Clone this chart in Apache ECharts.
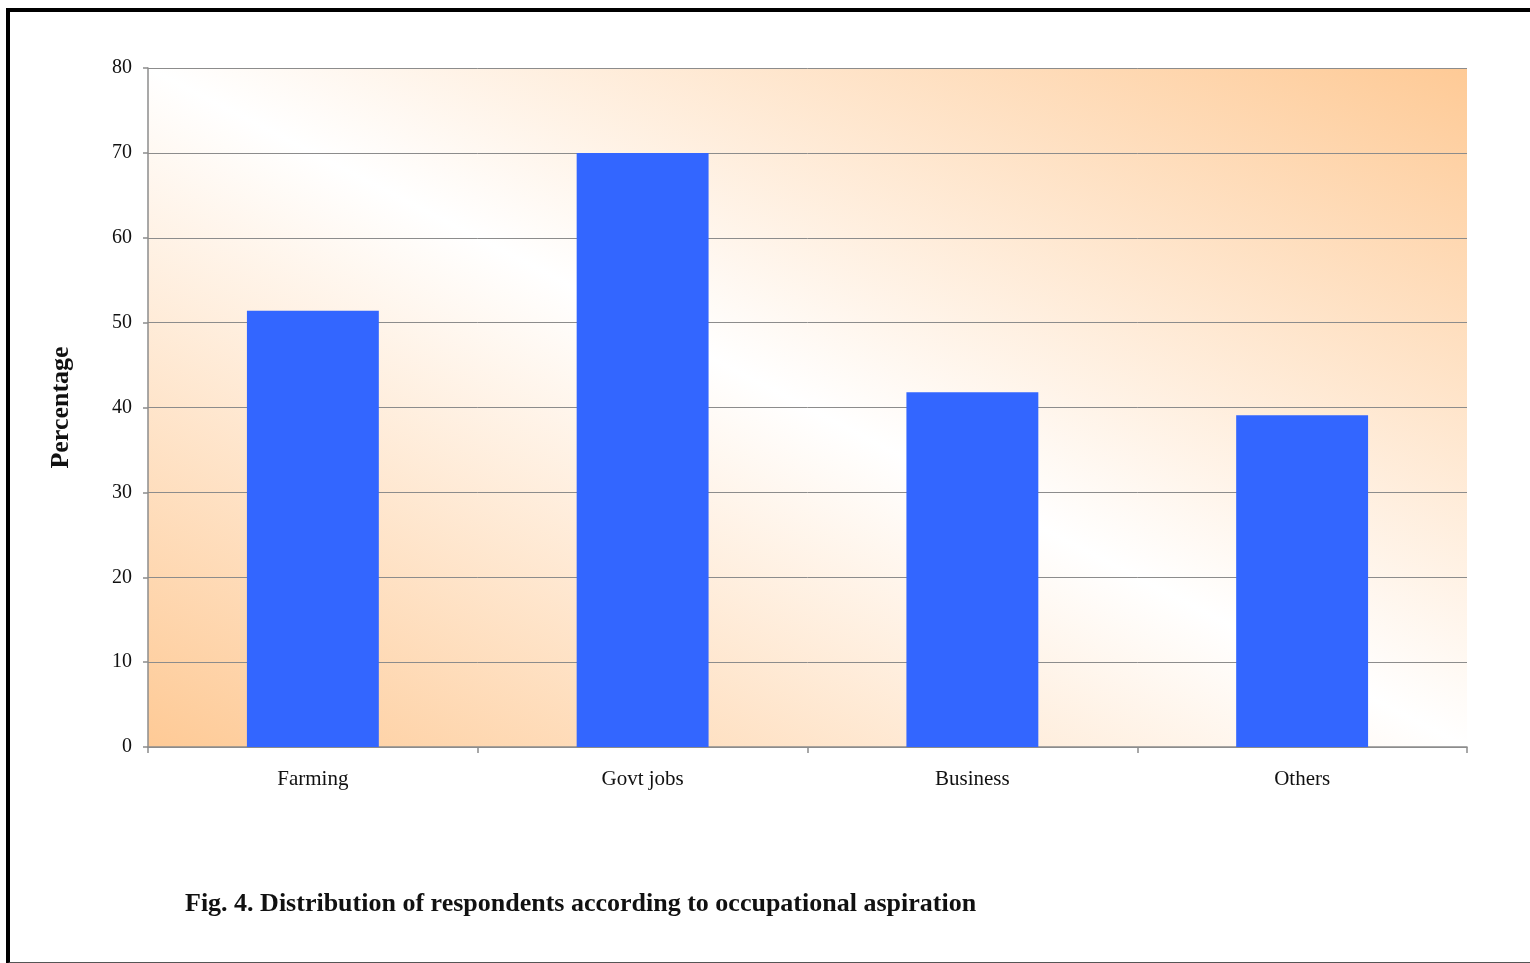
<!DOCTYPE html>
<html>
<head>
<meta charset="utf-8">
<script src="https://cdn.jsdelivr.net/npm/echarts@6/dist/echarts.min.js"></script>
<style>
  html, body { margin: 0; padding: 0; background: #fff; }
  #frame {
    position: absolute; left: 6px; top: 8px; width: 1520px; height: 950px;
    border-left: 4px solid #000; border-top: 4px solid #000;
    border-right: 2px solid #555; border-bottom: 2px solid #555;
  }
  #main { position: absolute; left: 0; top: 0; width: 1530px; height: 963px; }
</style>
</head>
<body>
<div id="frame"></div>
<div id="main"></div>
<script>
// data
var categories = ['Farming', 'Govt jobs', 'Business', 'Others'];
var percentages = [51.4, 70.0, 41.8, 39.1];
var yTicks = [0, 10, 20, 30, 40, 50, 60, 70, 80];

var chart = echarts.init(document.getElementById('main'));

var serif = '"Liberation Serif", "DejaVu Serif", serif';

// plot box, gradient runs across the box diagonal (white band along top-left -> bottom-right)
var box = { left: 148, top: 68, right: 1467, bottom: 747 };
var cx = (box.left + box.right) / 2, cy = (box.top + box.bottom) / 2;
var w = box.right - box.left, h = box.bottom - box.top;
var len = Math.sqrt(w * w + h * h);
var ux = h / len, uy = -w / len;
var half = ((box.left - cx) * ux + (box.bottom - cy) * uy);

chart.setOption({
  animation: false,
  title: {
    text: 'Fig. 4. Distribution of respondents according to occupational aspiration',
    left: 180, top: 886,
    textStyle: { fontFamily: serif, fontSize: 26, fontWeight: 'bold', color: '#111' }
  },
  grid: {
    left: box.left, top: box.top, right: 1530 - box.right, bottom: 963 - box.bottom,
    show: true,
    borderWidth: 0,
    backgroundColor: {
      type: 'linear', global: true,
      x: cx + half * ux, y: cy + half * uy,
      x2: cx - half * ux, y2: cy - half * uy,
      colorStops: [
        {offset: 0, color: '#FECA96'},
        {offset: 0.5, color: '#FFFFFF'},
        {offset: 1, color: '#FECA96'}
      ]
    }
  },
  xAxis: {
    type: 'category',
    data: categories,
    axisLine: { lineStyle: { color: '#8c8c8c', width: 1.5 } },
    axisTick: { show: true, length: 6, lineStyle: { color: '#8c8c8c', width: 1.5 } },
    axisLabel: { fontFamily: serif, fontSize: 21, color: '#111', margin: 22 }
  },
  yAxis: {
    type: 'value',
    min: yTicks[0], max: yTicks[yTicks.length - 1], interval: 10,
    name: 'Percentage',
    nameLocation: 'middle',
    nameGap: 74,
    nameTextStyle: { fontFamily: serif, fontSize: 26, fontWeight: 'bold', color: '#111' },
    axisLine: { show: true, lineStyle: { color: '#8c8c8c', width: 1.5 } },
    axisTick: { show: true, length: 5, lineStyle: { color: '#8c8c8c', width: 1.5 } },
    axisLabel: { fontFamily: serif, fontSize: 20, color: '#111', margin: 16 },
    splitLine: { show: true, lineStyle: { color: '#8c8c8c', width: 1 } }
  },
  series: [{
    type: 'bar',
    data: percentages,
    barWidth: '40%',
    itemStyle: { color: '#3366FF' }
  }]
});
</script>
</body>
</html>
